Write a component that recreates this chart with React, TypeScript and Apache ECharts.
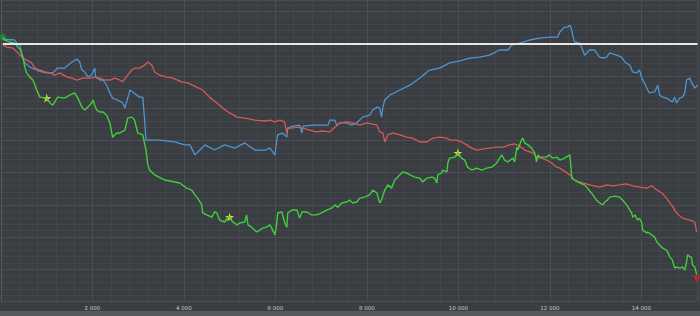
import React, { useEffect, useRef } from "react";
import * as echarts from "echarts";

// equity curves: [trade number, result]
const blueSeries: [number, number][] = [
  [40, 1.4], [300, 1.1], [370, -0.5], [410, 0.1], [450, -3.6], [520, -6.0], [630, -7.3], [780, -8.2],
  [890, -8.8], [1000, -9.1], [1130, -9.1], [1240, -7.6], [1390, -7.6], [1550, -5.7], [1660, -4.8],
  [1720, -5.7], [1770, -8.2], [1830, -8.8], [1900, -10.4], [1980, -9.8], [2050, -7.6], [2070, -10.4],
  [2160, -11.3], [2230, -11.3], [2310, -12.9], [2380, -15.3], [2440, -16.9], [2550, -17.5], [2660, -18.4],
  [2710, -20.0], [2770, -16.9], [2820, -14.4], [2880, -15.0], [3030, -16.6], [3100, -16.6], [3140, -23.7],
  [3170, -29.9], [3470, -29.9], [3800, -30.5], [4020, -31.4], [4130, -31.4], [4240, -34.5], [4350, -33.0],
  [4460, -31.4], [4670, -33.0], [4890, -31.4], [5110, -32.4], [5330, -30.8], [5550, -33.0], [5770, -33.0],
  [5880, -32.4], [5990, -34.5], [6030, -29.9], [6050, -28.3], [6160, -27.7], [6250, -29.0], [6270, -26.2],
  [6380, -25.6], [6530, -25.3], [6580, -27.7], [6600, -25.6], [6820, -25.3], [7150, -25.3], [7190, -23.7],
  [7300, -23.7], [7340, -25.3], [7410, -24.6], [7560, -24.6], [7670, -25.3], [7780, -24.6], [7840, -23.7],
  [7910, -22.8], [8060, -22.2], [8130, -20.6], [8220, -19.7], [8280, -20.0], [8320, -22.8], [8350, -19.7],
  [8390, -17.5], [8500, -16.0], [8720, -14.4], [8940, -12.9], [9160, -10.7], [9370, -8.2], [9590, -7.6],
  [9810, -6.0], [10030, -5.4], [10250, -4.5], [10470, -4.2], [10680, -3.6], [10900, -2.0], [11080, -2.0],
  [11170, -0.5], [11340, 0.15], [11560, 1.1], [11780, 1.7], [11990, 2.0], [12170, 2.0], [12220, 3.6],
  [12320, 5.1], [12390, 5.1], [12440, 5.7], [12480, 4.2], [12500, 2.6], [12540, 0.5], [12650, 0.15],
  [12720, -2.0], [12760, -3.6], [12870, -2.0], [12980, -2.0], [13020, -2.9], [13090, -4.2], [13160, -4.5],
  [13240, -4.2], [13310, -2.9], [13460, -3.6], [13570, -4.2], [13640, -5.7], [13750, -6.7], [13810, -8.8],
  [13900, -9.1], [13960, -8.2], [14010, -10.7], [14070, -12.2], [14140, -14.4], [14180, -15.3],
  [14290, -15.0], [14360, -12.9], [14400, -16.0], [14470, -16.6], [14550, -16.9], [14620, -17.5],
  [14680, -18.1], [14730, -16.6], [14770, -18.4], [14840, -16.9], [14900, -16.6], [14950, -15.3],
  [14990, -11.3], [15060, -10.7], [15100, -12.2], [15170, -13.8], [15230, -12.9],
];

const redSeries: [number, number][] = [
  [40, -0.5], [130, -1.1], [260, -1.4], [350, -2.6], [410, -3.6], [480, -4.5], [560, -5.1], [670, -6.0],
  [740, -7.6], [850, -8.2], [960, -8.8], [1070, -9.1], [1180, -9.8], [1290, -9.1], [1440, -10.4],
  [1550, -10.7], [1660, -11.3], [1790, -10.7], [1940, -10.7], [2050, -10.4], [2160, -10.7], [2270, -11.3],
  [2380, -11.3], [2490, -10.7], [2600, -11.3], [2660, -11.9], [2770, -9.8], [2860, -8.2], [2920, -7.6],
  [3030, -7.6], [3140, -6.7], [3210, -5.7], [3300, -6.7], [3360, -8.8], [3470, -9.8], [3620, -10.4],
  [3760, -10.7], [3950, -11.9], [4080, -12.2], [4280, -13.5], [4410, -14.4], [4560, -16.6], [4720, -18.4],
  [4850, -20.0], [5000, -21.5], [5160, -22.8], [5330, -23.1], [5550, -23.7], [5770, -24.0], [5880, -23.7],
  [5990, -24.3], [6100, -23.7], [6200, -24.3], [6250, -27.7], [6270, -26.2], [6360, -26.2], [6470, -25.9],
  [6600, -26.2], [6750, -26.8], [6900, -27.4], [7030, -27.1], [7190, -27.4], [7300, -25.9], [7410, -24.6],
  [7560, -24.3], [7690, -24.6], [7840, -25.3], [7990, -24.6], [8130, -25.0], [8220, -25.3], [8280, -27.4],
  [8350, -27.7], [8390, -30.5], [8460, -28.3], [8570, -27.7], [8720, -28.3], [8870, -29.0], [9000, -29.3],
  [9160, -30.5], [9310, -30.5], [9440, -29.3], [9590, -29.0], [9750, -29.3], [9810, -29.9], [9960, -29.9],
  [10070, -30.5], [10180, -31.4], [10290, -32.4], [10400, -33.0], [10530, -32.7], [10680, -32.4],
  [10840, -32.1], [10970, -32.1], [11120, -31.4], [11230, -31.1], [11340, -31.8], [11450, -33.0],
  [11560, -33.6], [11630, -33.9], [11710, -35.2], [11820, -35.5], [11930, -36.1], [12040, -37.0],
  [12150, -38.3], [12220, -38.6], [12440, -40.7], [12540, -42.3], [12650, -42.9], [12870, -43.8],
  [13090, -44.5], [13240, -43.8], [13370, -44.1], [13530, -43.8], [13680, -43.5], [13810, -44.1],
  [13960, -44.5], [14120, -44.8], [14230, -44.1], [14340, -45.4], [14450, -46.3], [14550, -47.9],
  [14660, -50.0], [14770, -52.5], [14900, -54.1], [15060, -54.7], [15170, -55.3], [15210, -58.4],
];

const greenSeries: [number, number][] = [
  [40, 2.0], [80, 1.1], [190, 0.5], [300, 0.15], [370, -1.1], [430, -2.0], [480, -4.2], [520, -7.3],
  [560, -9.1], [630, -10.4], [700, -11.3], [780, -14.4], [850, -16.6], [1000, -16.9], [1070, -18.4],
  [1130, -19.1], [1240, -16.6], [1390, -16.9], [1500, -16.0], [1610, -15.3], [1680, -16.9], [1770, -19.7],
  [1830, -20.6], [1900, -19.7], [1980, -18.4], [2010, -17.5], [2050, -19.1], [2090, -20.6], [2160, -21.2],
  [2230, -21.2], [2310, -22.2], [2380, -24.6], [2440, -29.0], [2530, -27.7], [2600, -27.7], [2710, -26.8],
  [2770, -23.1], [2860, -22.8], [2920, -23.7], [2990, -27.7], [3100, -28.3], [3170, -33.0], [3210, -37.6],
  [3250, -39.2], [3360, -40.7], [3580, -42.3], [3800, -42.9], [3910, -43.2], [4060, -44.8], [4170, -45.4],
  [4240, -46.9], [4300, -47.9], [4390, -50.0], [4410, -52.5], [4500, -53.1], [4610, -53.8], [4670, -52.2],
  [4720, -52.5], [4780, -54.7], [4890, -55.3], [4960, -53.8], [5000, -53.8], [5070, -55.3], [5160, -56.2],
  [5220, -55.6], [5330, -55.3], [5370, -53.1], [5400, -56.2], [5480, -56.9], [5590, -58.4], [5660, -57.8],
  [5720, -57.2], [5810, -56.9], [5880, -56.2], [5920, -57.2], [5990, -59.3], [6030, -55.6], [6050, -52.5],
  [6140, -52.2], [6200, -55.3], [6250, -56.9], [6270, -52.5], [6360, -51.6], [6470, -51.6], [6530, -54.1],
  [6580, -52.2], [6690, -52.2], [6790, -53.1], [6900, -53.1], [7010, -52.5], [7120, -51.6], [7230, -51.0],
  [7300, -50.0], [7360, -50.7], [7450, -49.4], [7560, -49.1], [7620, -48.5], [7690, -49.4], [7780, -49.1],
  [7840, -47.9], [7950, -47.6], [8060, -46.9], [8130, -45.4], [8220, -46.3], [8280, -49.4], [8320, -48.5],
  [8390, -45.4], [8460, -43.8], [8540, -44.8], [8610, -42.3], [8670, -41.4], [8780, -39.8], [8870, -40.1],
  [8940, -40.7], [9050, -41.4], [9160, -41.7], [9220, -42.9], [9310, -41.7], [9420, -41.4], [9480, -41.7],
  [9530, -43.2], [9550, -40.7], [9640, -40.1], [9660, -39.2], [9750, -39.8], [9770, -37.0], [9810, -35.5],
  [9920, -35.2], [9990, -33.9], [10070, -35.5], [10140, -36.1], [10200, -38.3], [10290, -39.2],
  [10400, -38.6], [10510, -39.2], [10620, -38.6], [10730, -38.3], [10840, -37.0], [10900, -35.5],
  [10950, -34.5], [11010, -36.1], [11080, -36.7], [11190, -35.5], [11230, -36.7], [11280, -32.1],
  [11300, -33.0], [11380, -29.9], [11410, -29.3], [11450, -30.8], [11520, -31.4], [11600, -32.4],
  [11670, -33.9], [11710, -36.7], [11740, -34.5], [11780, -35.2], [11930, -35.2], [11990, -34.5],
  [12060, -35.5], [12150, -35.2], [12220, -36.1], [12320, -35.5], [12440, -34.5], [12480, -41.7],
  [12540, -42.3], [12650, -43.2], [12760, -43.8], [12910, -46.3], [13020, -48.5], [13090, -49.4],
  [13160, -50.0], [13200, -49.1], [13260, -48.5], [13310, -47.6], [13420, -47.3], [13530, -47.6],
  [13590, -48.5], [13680, -50.0], [13750, -51.6], [13790, -52.5], [13810, -53.8], [13860, -53.1],
  [13920, -54.7], [13960, -54.1], [14010, -55.6], [14030, -57.8], [14120, -58.7], [14140, -58.4],
  [14230, -59.3], [14290, -59.9], [14340, -61.5], [14400, -62.4], [14470, -63.4], [14550, -64.0],
  [14580, -64.6], [14620, -66.1], [14680, -67.1], [14730, -69.6], [14770, -69.2], [14840, -69.6],
  [14900, -69.2], [14950, -70.2], [14990, -67.7], [15010, -65.5], [15100, -66.4], [15120, -68.6],
  [15170, -69.2], [15210, -71.7],
];

const starPoints: [number, number][] = [[1000, -16.9], [5000, -53.8], [9990, -33.9]];
const startPoint: [number, number][] = [[40, 2.0]];
const endPoint: [number, number][] = [[15210, -73.0]];
const baseLevel = 0;

const X_MIN = 0;
const X_MAX = 15240;
const X_STEP = 2000;
const Y_MIN = -80;
const Y_MAX = 13.5;
const Y_STEP = 10;

const STAR =
  "path://M50,0 L61,35 L98,35 L68,57 L79,91 L50,70 L21,91 L32,57 L2,35 L39,35 Z";

function fmt(v: number): string {
  const s = String(Math.round(v));
  return s.replace(/\B(?=(\d{3})+(?!\d))/g, " ");
}

export default function App() {
  const ref = useRef<HTMLDivElement>(null);
  useEffect(() => {
    if (!ref.current) return;
    const chart = echarts.init(ref.current, undefined, { renderer: "svg" });
    const gridMajor = "#4b4e53";
    const gridMinor = "#42454a";
    chart.setOption({
      animation: false,
      backgroundColor: "#3a3d42",
      grid: { left: 1, right: 2, top: 0, bottom: 14.3, containLabel: false },
      graphic: [
        {
          type: "rect",
          left: 0,
          bottom: 0,
          shape: { width: 700, height: 5 },
          style: { fill: "#55585c" },
          silent: true,
        },
      ],
      xAxis: {
        type: "value",
        min: X_MIN,
        max: X_MAX,
        interval: X_STEP,
        axisLine: { show: true, lineStyle: { color: "#55585c", width: 1 } },
        axisTick: { show: false },
        axisLabel: {
          color: "#c8c8c8",
          fontSize: 5.5,
          fontFamily: "DejaVu Sans",
          margin: 3,
          showMinLabel: false,
          showMaxLabel: false,
          formatter: (v: number) => (v > 0 && v % X_STEP === 0 ? fmt(v) : ""),
        },
        splitLine: { show: true, lineStyle: { color: gridMajor, width: 1 } },
        minorTick: { show: false, splitNumber: 5 },
        minorSplitLine: { show: true, lineStyle: { color: gridMinor, width: 1 } },
      },
      yAxis: {
        type: "value",
        min: Y_MIN,
        max: Y_MAX,
        interval: Y_STEP,
        axisLine: { show: true, lineStyle: { color: "#55585c", width: 1 } },
        axisTick: { show: false },
        axisLabel: { show: false },
        splitLine: { show: true, lineStyle: { color: gridMajor, width: 1 } },
        minorTick: { show: false, splitNumber: 5 },
        minorSplitLine: { show: true, lineStyle: { color: gridMinor, width: 1 } },
      },
      series: [
        {
          type: "line",
          data: blueSeries,
          showSymbol: false,
          lineStyle: { color: "#4f95cf", width: 1.3 },
          markLine: {
            silent: true,
            symbol: "none",
            label: { show: false },
            lineStyle: { color: "#e6e6e6", width: 2, type: "solid" },
            data: [[{ coord: [40, baseLevel] }, { coord: [15230, baseLevel] }]],
          },
        },
        {
          type: "line",
          data: redSeries,
          showSymbol: false,
          lineStyle: { color: "#d45a57", width: 1.3 },
        },
        {
          type: "line",
          data: greenSeries,
          showSymbol: false,
          lineStyle: { color: "#3fcf3a", width: 1.4 },
        },
        {
          type: "scatter",
          data: starPoints,
          symbol: STAR,
          symbolSize: 9,
          itemStyle: { color: "#ffff33" },
        },
        {
          type: "scatter",
          data: startPoint,
          symbol: "circle",
          symbolSize: 7,
          itemStyle: { color: "#1f8a2a" },
        },
        {
          type: "scatter",
          data: endPoint,
          symbol: "triangle",
          symbolRotate: 180,
          symbolSize: 7,
          itemStyle: { color: "#e01f1f" },
        },
      ],
    });
    return () => chart.dispose();
  }, []);
  return (
    <div
      ref={ref}
      style={{ position: "fixed", left: 0, top: 0, width: 700, height: 316 }}
    />
  );
}
